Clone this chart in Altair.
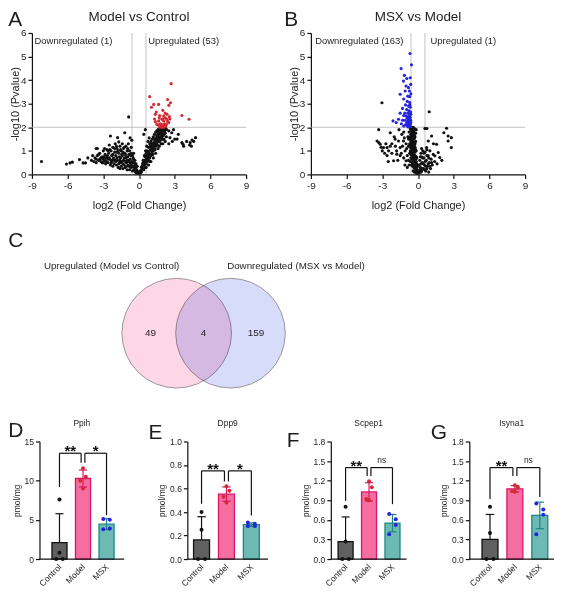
import math
import pandas as pd
import altair as alt

FONT = "Liberation Sans"

# ---------------- Panel A: Model vs Control (log2 FC, -log10 P) ----------------
A_GREY = [
    (-8.2, 0.55), (-6.1, 0.44), (-5.8, 0.49), (-5.6, 0.52), (-5.0, 0.63), (-4.7, 0.49),
    (-4.5, 0.49), (-4.0, 0.6), (-4.3, 0.7), (-3.9, 0.8), (-3.6, 1.1), (-0.87, 2.44),
    (-3.8, 0.55), (-3.7, 0.7), (-3.6, 0.5), (-3.5, 0.8), (-3.4, 0.6), (-3.3, 0.9), (-3.2, 0.55),
    (-3.1, 0.75), (-3.0, 1.0), (-3.0, 0.5), (-3.5, 1.1), (-3.3, 0.65),
    (-2.9, 0.6), (-2.85, 0.85), (-2.8, 0.45), (-2.7, 1.05), (-2.7, 0.7), (-2.6, 0.5), (-2.55, 0.9),
    (-2.5, 1.25), (-2.45, 0.65), (-2.4, 0.4), (-2.35, 1.0), (-2.3, 0.8), (-2.25, 0.55), (-2.2, 1.15),
    (-2.15, 0.7), (-2.1, 0.45), (-2.05, 0.95), (-2.0, 0.6), (-2.0, 1.3), (-2.4, 1.63), (-2.2, 0.35),
    (-2.6, 1.0), (-2.9, 1.1),
    (-1.95, 0.8), (-1.9, 0.4), (-1.85, 1.1), (-1.8, 0.6), (-1.8, 1.56), (-1.75, 0.3), (-1.7, 0.9),
    (-1.7, 1.38), (-1.65, 0.5), (-1.6, 1.2), (-1.55, 0.7), (-1.5, 0.35), (-1.5, 1.0), (-1.45, 0.55),
    (-1.4, 1.3), (-1.4, 0.8), (-1.35, 0.25), (-1.3, 0.6), (-1.3, 1.1), (-1.25, 0.4), (-1.2, 0.9),
    (-1.2, 1.77), (-1.15, 0.3), (-1.1, 0.7), (-1.1, 1.2), (-1.05, 0.5), (-1.0, 0.2), (-1.0, 1.0),
    (-1.6, 0.25), (-1.9, 1.2),
    (-0.95, 0.75), (-0.9, 0.4), (-0.9, 1.3), (-0.85, 0.6), (-0.8, 0.2), (-0.8, 1.0), (-0.75, 0.5),
    (-0.7, 0.8), (-0.7, 0.3), (-0.65, 1.15), (-0.6, 0.55), (-0.55, 0.15), (-0.5, 0.7), (-0.5, 0.35),
    (-0.45, 0.9), (-0.4, 0.5), (-0.4, 0.2), (-0.35, 0.6), (-0.3, 0.3), (-0.3, 0.1), (-0.25, 0.45),
    (-0.2, 0.2), (-0.15, 0.35), (-0.1, 0.1), (-0.05, 0.05), (-0.2, 0.05), (-0.6, 1.45), (-0.75, 1.55),
    (-3.6, 0.65), (-3.4, 0.85), (-3.2, 0.7), (-3.1, 0.5), (-2.95, 0.75), (-2.75, 0.55), (-2.65, 0.8),
    (-2.5, 0.7), (-2.45, 1.05), (-2.3, 0.6), (-2.2, 0.85), (-2.1, 0.65), (-2.05, 1.1), (-1.95, 0.55),
    (-1.9, 0.95), (-1.85, 0.7), (-1.75, 1.0), (-1.7, 0.45), (-1.65, 0.75), (-1.55, 0.5), (-1.55, 1.05),
    (-1.45, 0.85), (-1.35, 0.45), (-1.35, 0.95), (-1.25, 0.7), (-1.25, 1.15), (-1.15, 0.55),
    (-1.15, 0.85), (-1.05, 0.35), (-1.05, 0.75), (-0.95, 0.55), (-0.95, 1.1), (-0.85, 0.35),
    (-0.85, 0.85), (-0.75, 0.65), (-0.65, 0.4), (-0.65, 0.9), (-0.55, 0.5), (-0.55, 0.8), (-0.45, 0.3),
    (-0.45, 0.65), (-0.35, 0.4), (-0.25, 0.3), (-0.15, 0.15), (-2.8, 0.7), (-2.6, 0.65), (-3.0, 0.65),
    (-2.35, 0.5), (-1.6, 0.6), (-1.0, 0.6),
    (0.05, 0.05), (0.1, 0.15), (0.15, 0.1), (0.2, 0.3), (0.2, 0.1), (0.25, 0.2), (0.3, 0.45),
    (0.3, 0.25), (0.35, 0.35), (0.4, 0.6), (0.4, 0.2), (0.45, 0.4), (0.5, 0.75), (0.5, 0.5),
    (0.5, 0.3), (0.55, 0.6), (0.6, 0.9), (0.6, 0.45), (0.65, 0.7), (0.7, 1.0), (0.7, 0.55),
    (0.75, 0.8), (0.8, 1.15), (0.8, 0.6), (0.85, 0.9), (0.9, 1.3), (0.9, 0.7), (0.95, 1.05),
    (1.0, 1.4), (1.0, 0.8), (1.05, 1.15), (1.1, 1.5), (1.1, 0.9), (1.15, 1.25), (1.2, 1.6),
    (1.2, 1.0), (1.25, 1.35), (1.3, 1.7), (1.3, 1.1), (1.35, 1.45), (1.4, 1.8), (1.4, 1.2),
    (1.45, 1.55), (1.5, 1.85), (1.5, 1.3), (1.55, 1.6), (1.6, 1.9), (1.6, 1.4), (1.65, 1.7),
    (1.7, 1.95), (1.7, 1.5), (1.75, 1.75), (1.8, 1.6), (1.8, 1.9), (1.85, 1.3), (1.9, 1.7),
    (1.9, 1.95), (1.95, 1.5), (2.0, 1.85), (2.0, 1.3), (2.05, 1.65), (2.1, 1.95), (2.1, 1.5),
    (2.2, 1.75), (2.2, 1.4), (2.3, 1.6), (2.3, 1.9), (1.2, 0.7), (1.4, 0.9), (1.6, 1.1),
    (1.0, 0.55), (0.8, 0.4), (0.6, 0.3), (1.7, 1.2), (0.35, 0.6), (0.45, 0.8), (0.55, 1.0),
    (0.65, 1.2), (0.4, 1.7), (0.53, 1.9), (0.75, 1.4), (0.85, 1.55),
    (0.25, 0.35), (0.35, 0.5), (0.45, 0.55), (0.55, 0.8), (0.6, 0.65), (0.7, 0.8), (0.75, 0.6),
    (0.8, 0.95), (0.85, 0.7), (0.95, 0.85), (0.95, 1.2), (1.05, 1.0), (1.1, 1.3), (1.15, 1.1),
    (1.25, 1.2), (1.3, 1.5), (1.35, 1.3), (1.45, 1.4), (1.5, 1.65), (1.55, 1.45), (1.6, 1.75),
    (1.65, 1.55), (1.7, 1.8), (1.75, 1.6), (1.8, 1.75), (1.85, 1.85), (1.9, 1.5), (1.95, 1.8),
    (2.0, 1.65), (2.05, 1.9), (2.1, 1.7), (2.15, 1.85), (2.25, 1.95), (1.75, 1.4), (1.55, 1.25),
    (1.35, 1.05), (1.15, 0.85), (0.9, 0.55), (2.0, 1.5), (1.9, 1.6),
    (2.9, 1.9), (3.2, 1.5), (3.3, 1.7), (3.6, 1.35), (3.75, 1.2), (4.0, 1.4), (4.3, 1.35),
    (4.45, 1.46), (4.6, 1.4), (4.75, 1.56), (4.25, 1.25), (3.7, 1.28), (2.6, 1.56), (2.75, 1.77),
    (2.5, 1.85), (2.5, 1.3), (2.8, 1.4), (3.0, 1.5), (4.4, 1.2),
]
A_UP = [
    (2.7, 3.85), (0.9, 3.3), (1.23, 2.97), (1.65, 2.97), (2.4, 3.18), (2.64, 3.04), (2.5, 2.93),
    (2.0, 2.72), (1.37, 2.55), (1.74, 2.5), (3.6, 2.5), (4.2, 2.34), (2.07, 2.48), (2.35, 2.55),
    (2.2, 2.4), (1.93, 2.34), (1.65, 2.27), (1.37, 2.24), (1.5, 2.13), (1.8, 2.15), (2.07, 2.27),
    (2.35, 2.34), (2.5, 2.2), (2.3, 2.13), (1.93, 2.06), (1.74, 2.01), (2.07, 2.0), (1.85, 2.05),
    (1.95, 2.1), (2.0, 2.02), (1.9, 2.0), (2.1, 2.08), (1.8, 2.03), (2.15, 2.15), (2.4, 2.25),
    (1.6, 2.1), (2.25, 2.05), (2.6, 2.35), (1.05, 2.85), (1.45, 2.65), (2.55, 2.45), (1.7, 2.4),
    (2.0, 2.35), (2.2, 2.6), (1.3, 2.35),
]

# ---------------- Panel B: MSX vs Model ----------------
B_GREY = [
    (-0.65, 1.95), (-0.55, 1.9), (-0.45, 1.85), (-0.35, 1.8), (-0.6, 1.7), (-0.5, 1.65), (-0.4, 1.6),
    (-0.3, 1.55), (-0.65, 1.5), (-0.55, 1.45), (-0.45, 1.4), (-0.35, 1.35), (-0.25, 1.3), (-0.6, 1.25),
    (-0.5, 1.2), (-0.4, 1.15), (-0.3, 1.1), (-0.2, 1.05), (-0.65, 1.0), (-0.55, 0.95), (-0.45, 0.9),
    (-0.35, 0.85), (-0.25, 0.8), (-0.15, 0.75), (-0.6, 0.7), (-0.5, 0.65), (-0.4, 0.6), (-0.3, 0.55),
    (-0.2, 0.5), (-0.1, 0.45), (-0.55, 0.4), (-0.45, 0.35), (-0.35, 0.3), (-0.25, 0.25), (-0.15, 0.2),
    (-0.05, 0.15), (-0.3, 0.1), (-0.1, 0.05), (-0.2, 0.4), (-0.15, 1.0), (-0.1, 0.3), (-0.25, 1.6),
    (-0.15, 1.9), (-0.3, 1.95), (-0.45, 1.98), (-0.7, 1.3), (-0.75, 1.8), (-0.8, 1.5), (-0.2, 1.4),
    (-0.1, 0.7), (-0.05, 0.35),
    (-0.6, 1.85), (-0.5, 1.75), (-0.4, 1.7), (-0.3, 1.65), (-0.55, 1.6), (-0.45, 1.55), (-0.35, 1.5),
    (-0.6, 1.4), (-0.5, 1.35), (-0.4, 1.3), (-0.3, 1.25), (-0.55, 1.1), (-0.45, 1.05), (-0.35, 1.0),
    (-0.25, 0.95), (-0.6, 0.85), (-0.5, 0.8), (-0.4, 0.75), (-0.3, 0.7), (-0.2, 0.65), (-0.5, 0.5),
    (-0.4, 0.45), (-0.3, 0.4), (-0.2, 0.3), (-0.1, 0.2), (-0.4, 0.15), (-0.2, 0.1), (-0.15, 0.55),
    (-0.25, 1.15), (-0.2, 1.75), (-0.65, 1.15), (-0.65, 0.55), (-0.7, 1.6), (-0.7, 0.9), (-0.35, 1.9),
    (-0.5, 1.95), (-0.6, 2.0), (-0.4, 2.0),
    (-3.44, 1.42), (-3.3, 1.35), (-3.17, 1.28), (-2.9, 1.14), (-2.6, 1.14), (-2.47, 1.0), (-2.33, 1.2),
    (-2.05, 0.58), (-1.78, 0.86), (-1.64, 1.42), (-1.5, 1.14), (-1.36, 1.7), (-1.22, 1.42),
    (-1.08, 1.0), (-1.0, 0.58), (-1.92, 1.5), (-2.33, 1.77), (-3.3, 1.9), (-3.03, 3.04), (-2.2, 0.9),
    (-1.9, 1.2), (-1.7, 0.6), (-1.4, 0.9), (-1.2, 1.8), (-1.0, 1.3), (-0.9, 0.8), (-0.85, 1.6),
    (-2.7, 1.3), (-3.0, 1.0), (-2.0, 1.6), (-1.6, 1.9), (-1.1, 0.4), (-0.9, 0.3), (-2.5, 0.55),
    (-2.8, 0.9), (-2.2, 1.3), (-1.8, 1.0), (-1.3, 1.2), (-1.2, 0.7), (-0.95, 1.1), (-0.8, 0.6),
    (-0.8, 1.2), (-0.75, 0.4), (-1.5, 0.8), (-2.6, 0.8), (-3.1, 1.15), (-1.15, 1.55),
    (0.1, 0.1), (0.2, 0.3), (0.3, 0.15), (0.35, 0.5), (0.45, 0.25), (0.5, 0.7), (0.55, 0.4),
    (0.65, 0.15), (0.7, 0.6), (0.8, 0.35), (0.85, 0.8), (0.95, 0.5), (1.05, 0.25), (1.1, 0.65),
    (1.2, 0.4), (1.28, 0.85), (0.25, 0.9), (0.4, 1.0), (0.6, 0.95), (0.15, 0.6), (0.9, 0.1),
    (1.0, 1.0), (1.4, 0.55), (0.3, 0.75), (0.75, 1.05),
    (0.05, 0.05), (0.15, 0.2), (0.25, 0.1), (0.25, 0.45), (0.35, 0.25), (0.4, 0.7), (0.45, 0.45),
    (0.55, 0.2), (0.6, 0.55), (0.65, 0.35), (0.75, 0.25), (0.75, 0.8), (0.85, 0.45), (0.9, 0.7),
    (1.0, 0.35), (1.15, 0.5), (0.2, 0.75), (0.5, 0.9), (0.1, 0.4), (0.3, 1.1),
    (1.14, 1.63), (1.56, 1.28), (1.7, 0.93), (1.42, 0.79), (1.83, 0.72), (0.86, 1.42), (0.72, 1.14),
    (0.58, 1.95), (0.65, 1.95), (0.75, 1.95), (0.94, 2.66), (2.4, 1.96), (2.17, 1.77), (2.53, 1.63),
    (2.8, 1.56), (2.53, 1.42), (2.8, 1.14), (1.3, 1.3), (2.0, 0.6), (1.6, 0.45),
]
B_DOWN = [
    (-0.67, 5.13), (-1.42, 4.49), (-1.14, 4.2), (-0.94, 4.07), (-0.55, 4.65), (-1.22, 3.96),
    (-0.61, 3.82), (-1.0, 3.75), (-0.8, 3.68), (-1.5, 3.4), (-1.08, 3.54), (-0.72, 3.54),
    (-0.6, 3.42), (-0.86, 3.32), (-0.65, 4.1),
    (-1.2, 3.2), (-0.9, 3.1), (-0.7, 3.05), (-1.05, 2.95), (-0.8, 2.9), (-0.65, 2.85), (-1.3, 2.8),
    (-0.95, 2.75), (-0.75, 2.7), (-0.62, 2.65), (-1.1, 2.6), (-0.85, 2.6), (-0.7, 2.55), (-1.2, 2.5),
    (-1.0, 2.48), (-0.8, 2.45), (-0.65, 2.42), (-0.9, 2.38), (-0.75, 2.35), (-1.1, 2.3), (-0.62, 2.3),
    (-0.85, 2.27), (-0.7, 2.22), (-0.95, 2.2), (-0.8, 2.15), (-0.65, 2.12), (-1.05, 2.1), (-0.9, 2.08),
    (-0.75, 2.05), (-0.62, 2.03), (-0.85, 2.02), (-0.7, 2.1), (-1.2, 2.05), (-2.1, 2.27), (-1.83, 2.2),
    (-1.64, 2.34), (-1.4, 2.15), (-1.5, 2.6), (-1.3, 2.3), (-0.6, 2.2), (-0.6, 2.55), (-0.68, 2.95),
    (-0.7, 3.3),
]
FC_CUT = [-0.585, 0.585]
P_CUT = [2.0]
A_LABELS = ["Downregulated (1)", "Upregulated (53)"]
A_LABEL_X = [-8.78, 0.77]
B_LABELS = ["Downregulated (163)", "Upregulated (1)"]
B_LABEL_X = [-8.64, 1.05]
LABEL_Y = 5.65

# ---------------- Panel C: Venn ----------------
VENN_SETS = ["Upregulated (Model vs Control)", "Downregulated (MSX vs Model)"]
VENN_COUNTS = [49, 4, 159]  # only left, shared, only right

# ---------------- Panels D-G: bar charts ----------------
GROUPS = ["Control", "Model", "MSX"]
PPIH = {"Control": [7.6, 0.8, 0.0, 0.0], "Model": [11.6, 10.5, 10.0, 9.0], "MSX": [5.1, 5.0, 3.9, 3.8]}
DPP9 = {"Control": [0.40, 0.25, 0.0, 0.0], "Model": [0.62, 0.58, 0.53, 0.48], "MSX": [0.31, 0.30, 0.28, 0.28]}
SCPEP1 = {"Control": [0.80, 0.27, 0.0, 0.0], "Model": [1.19, 1.10, 0.92, 0.90], "MSX": [0.69, 0.61, 0.52, 0.38]}
ISYNA1 = {"Control": [0.80, 0.40, 0.0, 0.0], "Model": [1.13, 1.10, 1.04, 1.03], "MSX": [0.85, 0.76, 0.68, 0.38]}
# significance brackets: bracket height, leg ends (Control, Model, MSX), labels
BR_PPIH = (13.5, [9.2, 12.3, 5.6], ["**", "*"])
BR_DPP9 = (0.75, [0.47, 0.66, 0.37], ["**", "*"])
BR_SCPEP1 = (1.40, [0.89, 1.27, 0.84], ["**", "ns"])
BR_ISYNA1 = (1.40, [0.92, 1.27, 0.95], ["**", "ns"])

DOT_DX = {"Control": [0, 0, -0.14, 0.14], "Model": [0, 0.12, -0.12, 0], "MSX": [-0.14, 0.14, 0.14, -0.14]}
BAR_FILL = ["#606060", "#f46e9f", "#6dbab4"]
EDGE = ["#111111", "#d6176b", "#1a8880"]
TXT = "#1e1e1e"
MINUS_FIX = "replace(datum.label, '\u2212', '-')"


def anchor_rule(x, y0, y1):
    return alt.Chart(pd.DataFrame({"a": [0]})).mark_rule(opacity=0).encode(
        x=alt.value(x), y=alt.value(y0), y2=alt.value(y1))


def volcano(grey, hits, hit_key, title, letter, letter_x, labels, label_x, anchor):
    W, H = 215, 142
    df = pd.DataFrame([{"lfc": x, "nlp": y, "grp": "ns"} for x, y in grey] +
                      [{"lfc": x, "nlp": y, "grp": hit_key} for x, y in hits])
    xs = alt.Scale(domain=[-9, 9], nice=False, zero=False)
    ys = alt.Scale(domain=[0, 6], nice=False, zero=False)
    xax = alt.Axis(values=[-9, -6, -3, 0, 3, 6, 9], title="log2 (Fold Change)", titleFontSize=11,
                   titlePadding=9, labelFontSize=10, tickSize=4, labelPadding=2, labelFlush=False,
                   labelOverlap=False, labelExpr=MINUS_FIX)
    yax = alt.Axis(values=[0, 1, 2, 3, 4, 5, 6], title="-log10 (Pvalue)", titleFontSize=11,
                   titlePadding=0, labelFontSize=10, tickSize=4, labelPadding=2, labelOverlap=False)

    def X(f):
        return alt.X(f, scale=xs, axis=xax)

    def Y(f):
        return alt.Y(f, scale=ys, axis=yax)

    vlines = alt.Chart(pd.DataFrame({"fc": FC_CUT})).mark_rule(color="#b4b4b4", strokeWidth=0.8).encode(x=X("fc:Q"))
    hline = alt.Chart(pd.DataFrame({"p": P_CUT})).mark_rule(color="#b4b4b4", strokeWidth=0.8).encode(y=Y("p:Q"))
    pts = alt.Chart(df).mark_circle(size=10, opacity=1).encode(
        x=X("lfc:Q"), y=Y("nlp:Q"),
        color=alt.Color("grp:N", scale=alt.Scale(domain=["ns", "up", "down"],
                                                 range=["#111111", "#d42a32", "#2424e0"]), legend=None))
    ann = alt.Chart(pd.DataFrame({"t": labels, "x": label_x, "y": [LABEL_Y, LABEL_Y]})).mark_text(
        align="left", baseline="middle", fontSize=9.5, color=TXT).encode(x=X("x:Q"), y=Y("y:Q"), text="t:N")
    ttl = alt.Chart(pd.DataFrame({"t": [title]})).mark_text(
        fontSize=13.5, baseline="top", align="center", color=TXT).encode(
        x=alt.value(W / 2), y=alt.value(-23.5), text="t:N")
    let = alt.Chart(pd.DataFrame({"t": [letter]})).mark_text(
        fontSize=21, baseline="top", align="left", color=TXT).encode(
        x=alt.value(letter_x), y=alt.value(-23.7), text="t:N")
    layers = [vlines, hline, pts, ann, ttl, let]
    if anchor:
        layers.append(anchor_rule(-23.7, -23.7, 182))
    return alt.layer(*layers).properties(width=W, height=H)


def bar_panel(gene, letter, vals, xdom, W, shift, ymax, yticks, yfmt, bracket, letter_xy, anchor):
    # the plot area is widened by `shift` px on its left; axis and baseline start at `shift`
    H = 118
    WT = W + shift
    unit = W / (xdom[1] - xdom[0])
    dom = [xdom[0] - shift / unit, xdom[1]]
    rows = []
    for gi, g in enumerate(GROUPS):
        for k, v in enumerate(vals[g]):
            rows.append({"grp": g, "pos": gi, "value": v, "dx": DOT_DX[g][k]})
    df = pd.DataFrame(rows)
    xs = alt.Scale(domain=dom, nice=False, zero=False)
    ys = alt.Scale(domain=[0, ymax], nice=False, zero=False)
    lab = f"datum.value == 0 ? '{GROUPS[0]}' : datum.value == 1 ? '{GROUPS[1]}' : '{GROUPS[2]}'"
    xax = alt.Axis(values=[0, 1, 2], labelExpr=lab, labelAngle=-45, ticks=False, title=None, domain=False,
                   labelAlign="right", labelBaseline="middle", labelPadding=6, labelFontSize=8.5,
                   labelFlush=False, labelOverlap=False)
    yax = alt.Axis(values=yticks, format=yfmt, title="pmol/mg", titleFontSize=8.5, titlePadding=3,
                   labelFontSize=8.5, tickSize=4, labelPadding=2, labelOverlap=False, offset=-shift)

    def X(f):
        return alt.X(f, scale=xs, axis=xax)

    def Y(f):
        return alt.Y(f, scale=ys, axis=yax)

    stroke = alt.Stroke("grp:N", scale=alt.Scale(domain=GROUPS, range=EDGE), legend=None)
    bars = alt.Chart(df).transform_aggregate(
        m="mean(value)", groupby=["grp", "pos"]).transform_calculate(
        x0="datum.pos - 0.32", x1="datum.pos + 0.32", base="0").mark_bar(strokeWidth=1.3).encode(
        x=X("x0:Q"), x2="x1:Q", y=alt.Y("m:Q", scale=ys, axis=yax, stack=None), y2="base:Q",
        fill=alt.Fill("grp:N", scale=alt.Scale(domain=GROUPS, range=BAR_FILL), legend=None),
        stroke=stroke)
    eb = alt.Chart(df).transform_aggregate(
        m="mean(value)", sd="stdev(value)", groupby=["grp", "pos"]).transform_calculate(
        hi="datum.m + datum.sd",
        lo="datum.m - datum.sd > 0 ? datum.m - datum.sd : datum.m",
        c0="datum.pos - 0.17", c1="datum.pos + 0.17")
    err_v = eb.mark_rule(strokeWidth=1.2).encode(x=X("pos:Q"), y=Y("lo:Q"), y2="hi:Q", stroke=stroke)
    err_t = eb.mark_rule(strokeWidth=1.2).encode(x=X("c0:Q"), x2="c1:Q", y=Y("hi:Q"), stroke=stroke)
    err_b = eb.transform_filter("datum.m - datum.sd > 0").mark_rule(strokeWidth=1.2).encode(
        x=X("c0:Q"), x2="c1:Q", y=Y("lo:Q"), stroke=stroke)
    dots = alt.Chart(df).transform_calculate(xp="datum.pos + datum.dx").mark_circle(size=16, opacity=1).encode(
        x=X("xp:Q"), y=Y("value:Q"),
        color=alt.Color("grp:N", scale=alt.Scale(domain=GROUPS, range=EDGE), legend=None))
    baseline = alt.Chart(pd.DataFrame({"a": [0]})).mark_rule(color="#111111", strokeWidth=1.2).encode(
        x=alt.value(shift), x2=alt.value(WT), y=alt.value(H))

    by, legs, labs = bracket
    gap = 0.08
    segs = []
    for (a, b), (la, lb) in [((0, 1 - gap), (legs[0], legs[1])), ((1 + gap, 2), (legs[1], legs[2]))]:
        segs += [(a, by, b, by), (a, la, a, by), (b, lb, b, by)]
    seg_df = pd.DataFrame(segs, columns=["xa", "ya", "xb", "yb"])
    brk = alt.Chart(seg_df).mark_rule(color="#111111", strokeWidth=1.2).encode(
        x=X("xa:Q"), x2="xb:Q", y=Y("ya:Q"), y2="yb:Q")
    lab_df = pd.DataFrame({"x": [0.5 - gap / 2, 1.5 + gap / 2], "y": [by, by], "t": labs})
    stars = alt.Chart(lab_df).transform_filter("datum.t != 'ns'").mark_text(
        fontSize=15, fontWeight="bold", baseline="alphabetic", dy=3, color="#111111").encode(
        x=X("x:Q"), y=Y("y:Q"), text="t:N")
    ns = alt.Chart(lab_df).transform_filter("datum.t == 'ns'").mark_text(
        fontSize=8.5, baseline="alphabetic", dy=-5, color=TXT).encode(
        x=X("x:Q"), y=Y("y:Q"), text="t:N")
    ttl = alt.Chart(pd.DataFrame({"t": [gene]})).mark_text(
        fontSize=8.5, baseline="middle", align="center", color=TXT).encode(
        x=alt.value(shift + W / 2), y=alt.value(-19), text="t:N")
    let = alt.Chart(pd.DataFrame({"t": [letter]})).mark_text(
        fontSize=21, baseline="top", align="left", color=TXT).encode(
        x=alt.value(shift + letter_xy[0]), y=alt.value(letter_xy[1]), text="t:N")
    layers = [bars, err_v, err_t, err_b, dots, baseline, brk, stars, ns, ttl, let]
    if anchor:
        layers.append(anchor_rule(shift - 31.3, -25, H))
    return alt.layer(*layers).properties(width=WT, height=H)


def venn():
    VW, VH = 496, 183
    R = 55
    xs = alt.Scale(domain=[0, VW], nice=False, zero=False)
    ys = alt.Scale(domain=[0, VH], nice=False, zero=False, reverse=True)
    cx = [145.3, 199.3]
    cy = 109.3
    circ = pd.DataFrame({"set": VENN_SETS, "cx": cx, "cy": [cy, cy]})
    left = alt.Chart(circ).transform_filter(alt.datum.set == VENN_SETS[0]).mark_circle(
        size=(2 * R) ** 2, opacity=1, fill="#fdd7e6", stroke="#9c959c", strokeWidth=1).encode(
        x=alt.X("cx:Q", scale=xs, axis=None), y=alt.Y("cy:Q", scale=ys, axis=None))
    right = alt.Chart(circ).transform_filter(alt.datum.set == VENN_SETS[1]).mark_circle(
        size=(2 * R) ** 2, opacity=1, fill="#d7dcfb", stroke="#9c959c", strokeWidth=1,
        blend="multiply").encode(
        x=alt.X("cx:Q", scale=xs, axis=None), y=alt.Y("cy:Q", scale=ys, axis=None))
    names = pd.DataFrame({"t": VENN_SETS, "x": [80, 265], "y": [42.3, 42.3]})
    ttl = alt.Chart(names).mark_text(fontSize=9.8, baseline="middle", align="center", color=TXT).encode(
        x=alt.X("x:Q", scale=xs, axis=None), y=alt.Y("y:Q", scale=ys, axis=None), text="t:N")
    cnt = pd.DataFrame({"n": VENN_COUNTS, "x": [cx[0] - 26.3, (cx[0] + cx[1]) / 2, cx[1] + 25.7],
                        "y": [cy, cy, cy]})
    nums = alt.Chart(cnt).mark_text(fontSize=10, baseline="middle", align="center", color=TXT).encode(
        x=alt.X("x:Q", scale=xs, axis=None), y=alt.Y("y:Q", scale=ys, axis=None), text="n:Q")
    let = alt.Chart(pd.DataFrame({"t": ["C"]})).mark_text(
        fontSize=21, baseline="top", align="left", color=TXT).encode(
        x=alt.value(-23.7), y=alt.value(6.3), text="t:N")
    return alt.layer(left, right, ttl, nums, let, anchor_rule(-23.7, 0, VH)).properties(width=VW, height=VH)


A = volcano(A_GREY, A_UP, "up", "Model vs Control", "A", -23.7, A_LABELS, A_LABEL_X, True)
B = volcano(B_GREY, B_DOWN, "down", "MSX vs Model", "B", -26.7, B_LABELS, B_LABEL_X, False)
row1 = alt.hconcat(A, B, spacing=65, bounds="flush")

D = bar_panel("Ppih", "D", PPIH, [-0.85, 2.75], 85, 7.6, 15, [0, 5, 10, 15], "d", BR_PPIH, (-31.3, -21.7), True)
E = bar_panel("Dpp9", "E", DPP9, [-0.57, 2.67], 81, 0, 1.0, [0, 0.2, 0.4, 0.6, 0.8, 1.0], ".1f", BR_DPP9, (-39, -19.7), False)
F = bar_panel("Scpep1", "F", SCPEP1, [-0.63, 2.6], 76, 0, 1.8, [0, 0.3, 0.6, 0.9, 1.2, 1.5, 1.8], ".1f", BR_SCPEP1, (-44.3, -11.7), False)
G = bar_panel("Isyna1", "G", ISYNA1, [-0.83, 2.57], 85, 0, 1.8, [0, 0.3, 0.6, 0.9, 1.2, 1.5, 1.8], ".1f", BR_ISYNA1, (-38.6, -19.7), False)
row3 = alt.hconcat(D, E, F, G, spacing=63, bounds="flush")

chart = alt.vconcat(row1, venn(), row3, spacing=10).properties(padding=0).configure(
    font=FONT).configure_view(stroke=None).configure_axis(
    grid=False, domainColor="#111111", domainWidth=1.2, tickColor="#111111", tickWidth=1.2,
    labelColor=TXT, titleColor=TXT, titleFontWeight="normal", labelFont=FONT, titleFont=FONT)

chart.save("out.html", embed_options={"renderer": "svg", "actions": False})
